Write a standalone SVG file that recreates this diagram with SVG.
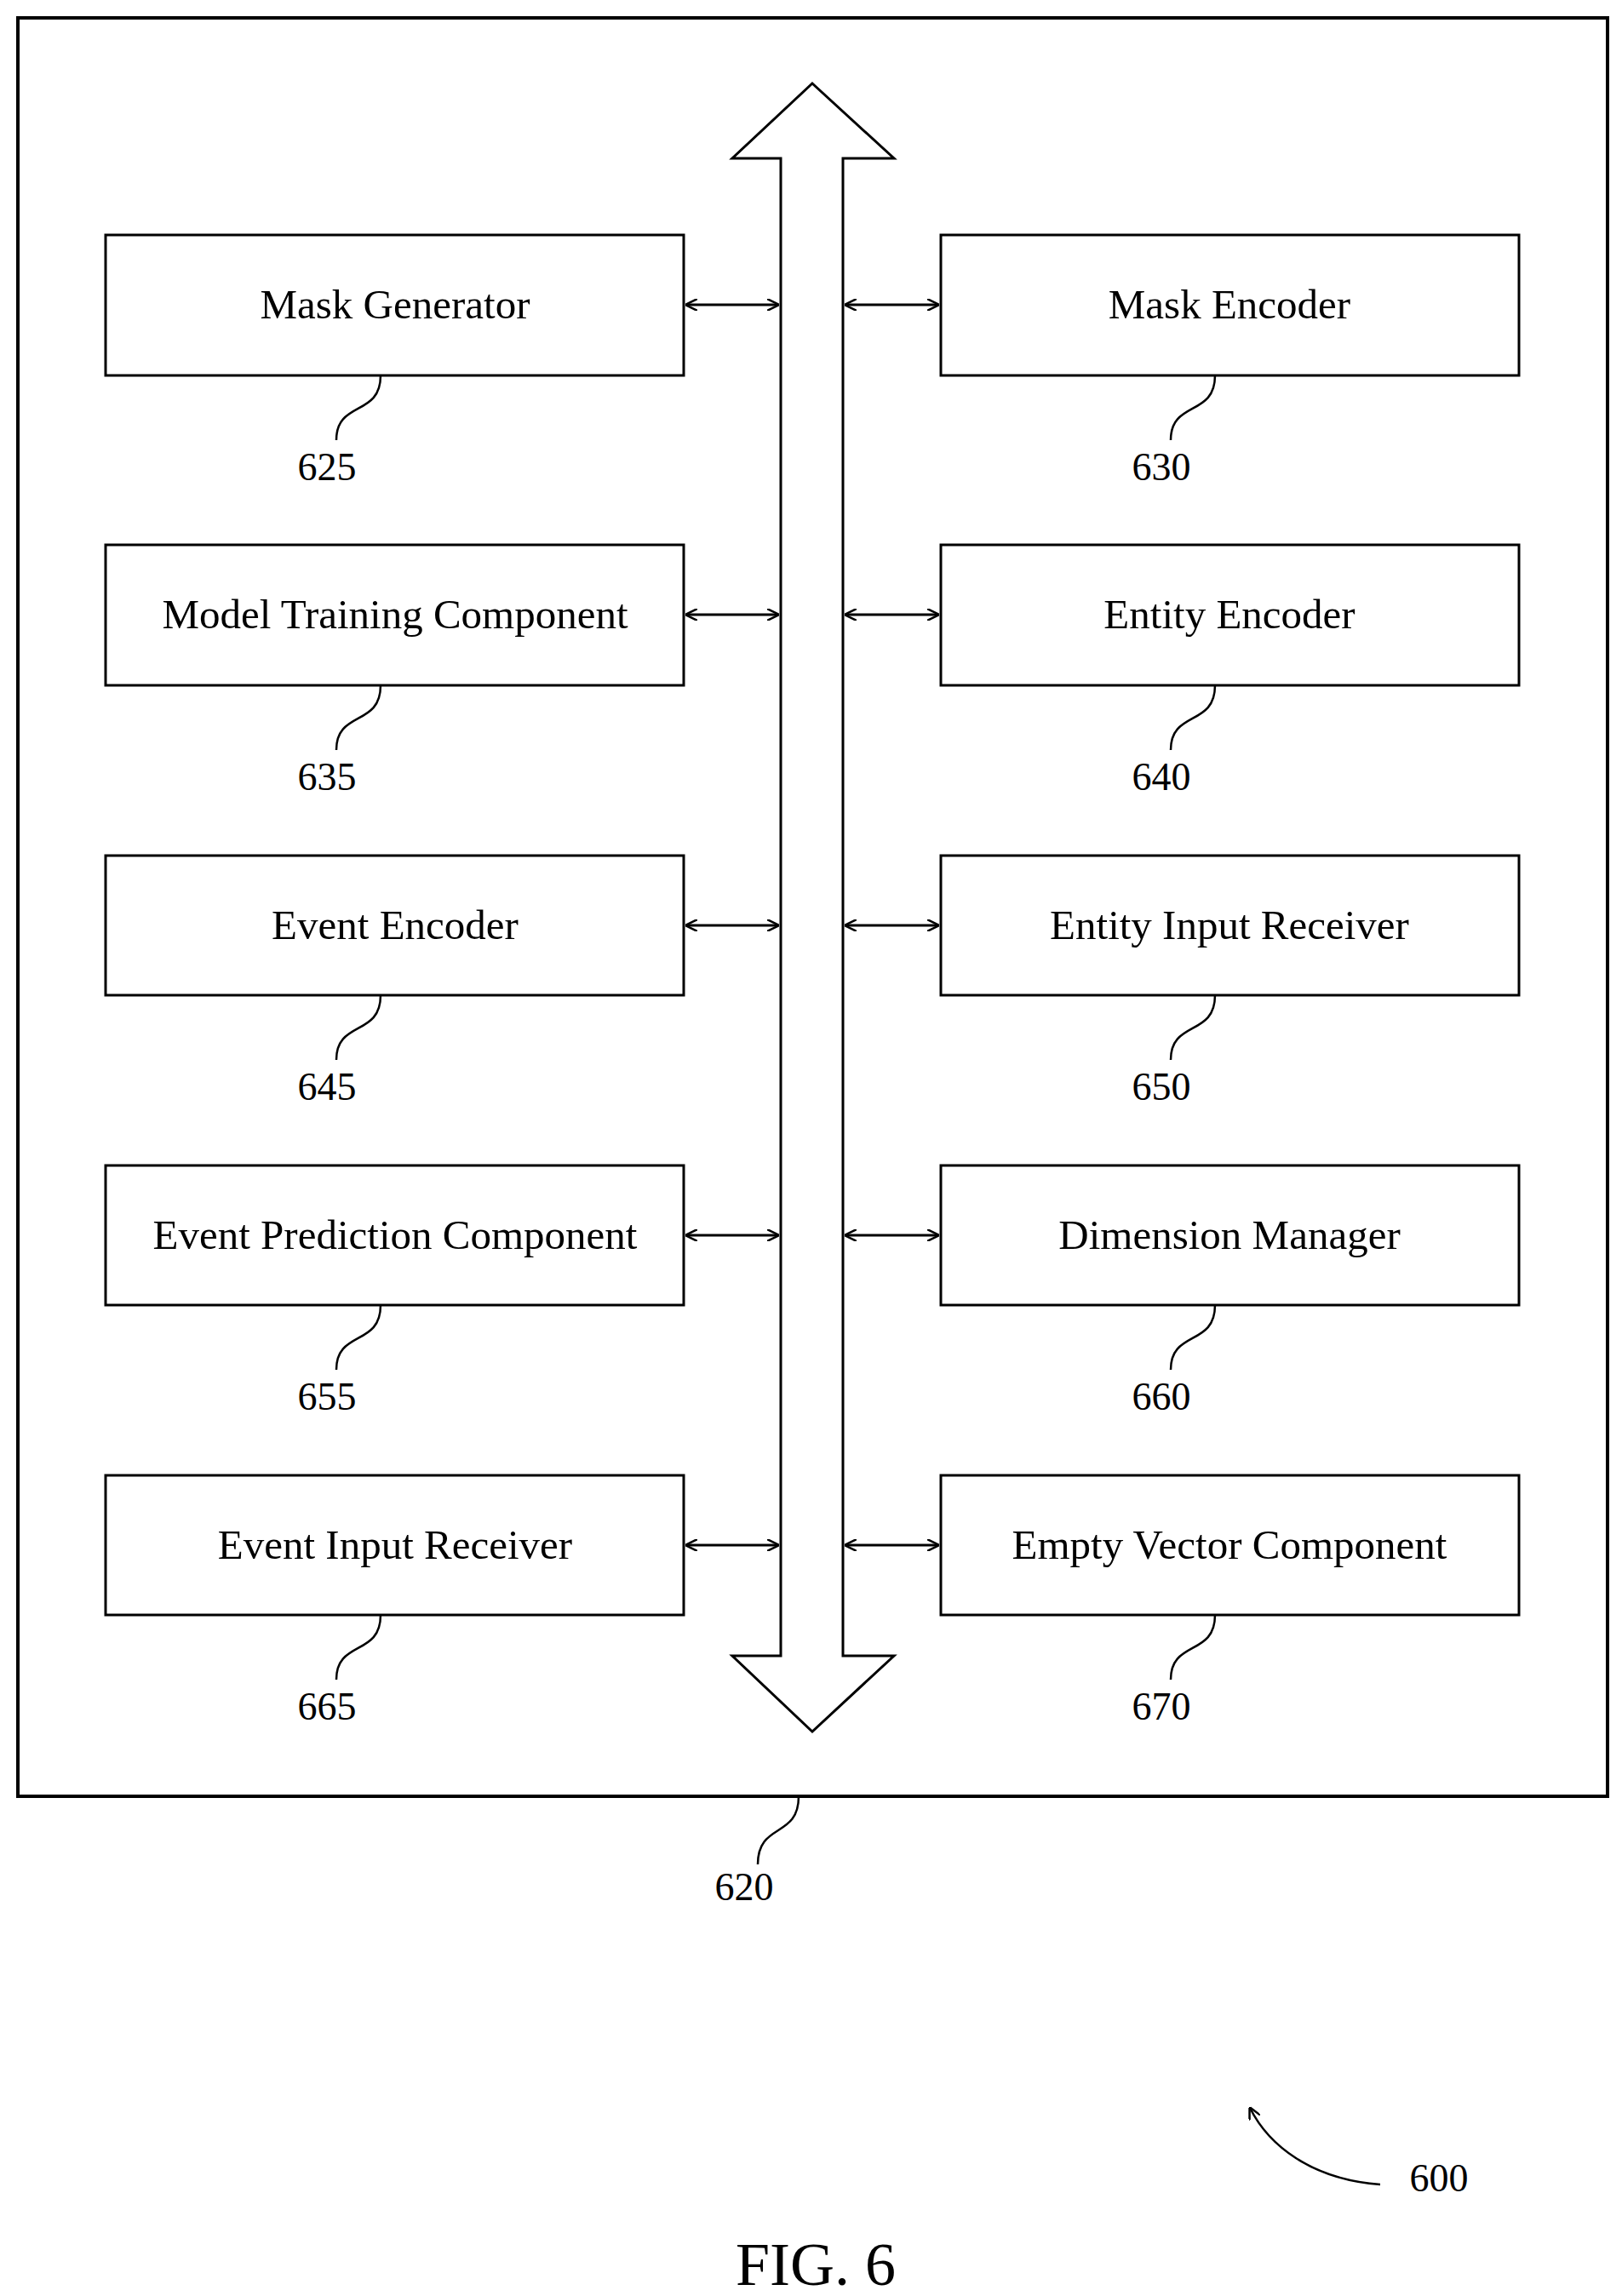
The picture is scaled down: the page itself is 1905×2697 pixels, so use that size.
<svg xmlns="http://www.w3.org/2000/svg" width="1905" height="2697" viewBox="0 0 1905 2697">
<style>
.b{fill:#fff;stroke:#000;stroke-width:3}
.t{font-family:"Liberation Serif",serif;font-size:49px;text-anchor:middle;fill:#000}
.n{font-family:"Liberation Serif",serif;font-size:46px;text-anchor:middle;fill:#000}
.l{fill:none;stroke:#000;stroke-width:2.5}
.c{fill:none;stroke:#000;stroke-width:3;marker-start:url(#a);marker-end:url(#a)}
</style>
<defs>
<marker id="a" viewBox="0 0 14 14" refX="13" refY="7" markerWidth="14" markerHeight="14" markerUnits="userSpaceOnUse" orient="auto-start-reverse">
<path d="M0,0 L14,7 L0,14" fill="none" stroke="#000" stroke-width="2.5"/>
</marker>
</defs>
<rect x="21" y="21" width="1867" height="2089" fill="#fff" stroke="#000" stroke-width="4"/>
<path d="M938,2110 C938,2160 890,2140 890,2190" class="l"/>
<text x="874" y="2232" class="n">620</text>
<g id="bus"><path d="M954,98 L1050,186 L990,186 L990,1945 L1050,1945 L954,2034 L860,1945 L917,1945 L917,186 L860,186 Z" class="b"/></g>
<g id="connectors">
<line x1="806" y1="358" x2="914" y2="358" class="c"/><line x1="993" y1="358" x2="1102" y2="358" class="c"/>
<line x1="806" y1="722" x2="914" y2="722" class="c"/><line x1="993" y1="722" x2="1102" y2="722" class="c"/>
<line x1="806" y1="1087" x2="914" y2="1087" class="c"/><line x1="993" y1="1087" x2="1102" y2="1087" class="c"/>
<line x1="806" y1="1451" x2="914" y2="1451" class="c"/><line x1="993" y1="1451" x2="1102" y2="1451" class="c"/>
<line x1="806" y1="1815" x2="914" y2="1815" class="c"/><line x1="993" y1="1815" x2="1102" y2="1815" class="c"/>
</g>
<g id="n625"><rect x="124" y="276" width="679" height="165" class="b"/><text x="464" y="374" class="t">Mask Generator</text><path d="M447,441 C447,490 395,470 395,517" class="l"/><text x="384" y="564" class="n">625</text></g>
<g id="n630"><rect x="1105" y="276" width="679" height="165" class="b"/><text x="1444" y="374" class="t">Mask Encoder</text><path d="M1427,441 C1427,490 1375,470 1375,517" class="l"/><text x="1364" y="564" class="n">630</text></g>
<g id="n635"><rect x="124" y="640" width="679" height="165" class="b"/><text x="464" y="738" class="t">Model Training Component</text><path d="M447,805 C447,854 395,834 395,881" class="l"/><text x="384" y="928" class="n">635</text></g>
<g id="n640"><rect x="1105" y="640" width="679" height="165" class="b"/><text x="1444" y="738" class="t">Entity Encoder</text><path d="M1427,805 C1427,854 1375,834 1375,881" class="l"/><text x="1364" y="928" class="n">640</text></g>
<g id="n645"><rect x="124" y="1005" width="679" height="164" class="b"/><text x="464" y="1103" class="t">Event Encoder</text><path d="M447,1169 C447,1218 395,1198 395,1245" class="l"/><text x="384" y="1292" class="n">645</text></g>
<g id="n650"><rect x="1105" y="1005" width="679" height="164" class="b"/><text x="1444" y="1103" class="t">Entity Input Receiver</text><path d="M1427,1169 C1427,1218 1375,1198 1375,1245" class="l"/><text x="1364" y="1292" class="n">650</text></g>
<g id="n655"><rect x="124" y="1369" width="679" height="164" class="b"/><text x="464" y="1467" class="t">Event Prediction Component</text><path d="M447,1533 C447,1582 395,1562 395,1609" class="l"/><text x="384" y="1656" class="n">655</text></g>
<g id="n660"><rect x="1105" y="1369" width="679" height="164" class="b"/><text x="1444" y="1467" class="t">Dimension Manager</text><path d="M1427,1533 C1427,1582 1375,1562 1375,1609" class="l"/><text x="1364" y="1656" class="n">660</text></g>
<g id="n665"><rect x="124" y="1733" width="679" height="164" class="b"/><text x="464" y="1831" class="t">Event Input Receiver</text><path d="M447,1897 C447,1946 395,1926 395,1973" class="l"/><text x="384" y="2020" class="n">665</text></g>
<g id="n670"><rect x="1105" y="1733" width="679" height="164" class="b"/><text x="1444" y="1831" class="t">Empty Vector Component</text><path d="M1427,1897 C1427,1946 1375,1926 1375,1973" class="l"/><text x="1364" y="2020" class="n">670</text></g>
<path d="M1621,2566 C1540,2560 1490,2520 1468,2476" class="l" marker-end="url(#a)"/>
<text x="1690" y="2574" class="n">600</text>
<text x="958" y="2684" style="font-family:'Liberation Serif',serif;font-size:72px;text-anchor:middle">FIG. 6</text>
</svg>
